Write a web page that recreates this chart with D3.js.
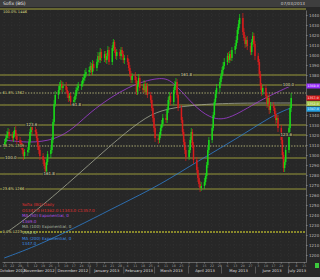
<!DOCTYPE html>
<html>
<head>
<meta charset="utf-8">
<script src="https://cdn.jsdelivr.net/npm/d3@7"></script>
<style>
  html, body { margin: 0; padding: 0; background: #272727; }
  svg { display: block; font-family: "DejaVu Sans", sans-serif; }
</style>
</head>
<body>
<div id="container"></div>
<script>
const title = "Sofix (BG)";
const stamp = "07/03/2013";
const firstDay = "2012-10-15", lastDay = "2013-07-03";

// daily candles, one row per week
const opens = [
  1310,1313,1317,1320,1323, 1319,1317,1321,1325,1319, 1315,1312,1309,1305,1299, 1303,1305,1313,1323,1329,
  1325,1323,1317,1309,1305, 1299,1295,1289,1283,1293, 1301,1305,1315,1333,1351, 1360,1365,1369,1371,1367,
  1369,1365,1361,1357,1359, 1353,1355,1359,1365,1367, 1369,1371,1375,1377,1381, 1383,1385,1389,1383,1391,
  1387,1393,1399,1395,1403, 1397,1401,1395,1399,1405, 1393,1407,1413,1405,1399, 1403,1399,1405,1401,1395,
  1397,1393,1387,1381,1375, 1379,1375,1363,1371,1377, 1367,1365,1371,1363,1369, 1360,1355,1347,1337,1327,
  1317,1315,1320,1327,1331, 1337,1335,1345,1355,1359, 1353,1365,1370,1373,1360, 1347,1335,1323,1313,1305,
  1298,1305,1315,1323,1310, 1295,1285,1277,1271,1267, 1269,1273,1279,1290,1305, 1315,1327,1340,1353,1361,
  1367,1373,1379,1385,1389, 1393,1399,1395,1401,1397, 1405,1409,1415,1425,1431, 1437,1423,1417,1411,1415,
  1409,1403,1413,1419,1411, 1399,1393,1381,1369,1363, 1367,1359,1351,1357,1345, 1349,1347,1341,1335,1337,
  1327,1315,1300,1287,1293, 1305,1327,1347
];
const highs = [
  1316,1320,1324,1327,1326, 1323,1324,1328,1329,1322, 1318,1315,1312,1308,1306, 1308,1316,1326,1333,1332,
  1329,1326,1320,1313,1308, 1302,1298,1292,1296,1304, 1308,1318,1336,1355,1364, 1369,1373,1375,1374,1373,
  1373,1368,1364,1362,1362, 1358,1362,1368,1371,1373, 1374,1378,1381,1385,1387, 1388,1393,1392,1395,1394,
  1396,1403,1402,1407,1406, 1404,1404,1402,1409,1408, 1410,1416,1415,1408,1406, 1406,1408,1408,1404,1400,
  1400,1396,1390,1384,1382, 1383,1378,1374,1381,1380, 1371,1375,1374,1372,1372, 1363,1359,1350,1340,1330,
  1320,1323,1330,1335,1341, 1341,1348,1358,1363,1362, 1368,1374,1377,1376,1363, 1350,1338,1326,1316,1308,
  1308,1318,1327,1326,1313, 1298,1288,1280,1274,1273, 1277,1282,1293,1308,1318, 1330,1343,1356,1365,1371,
  1377,1382,1388,1393,1397, 1402,1403,1404,1405,1408, 1412,1419,1428,1435,1441, 1442,1427,1420,1418,1419,
  1412,1416,1423,1422,1414, 1402,1396,1384,1372,1370, 1370,1362,1360,1361,1353, 1353,1350,1344,1340,1340,
  1330,1318,1303,1296,1308, 1330,1350,1362
];
const lows = [
  1306,1310,1314,1317,1316, 1314,1313,1318,1316,1311, 1309,1306,1301,1295,1296, 1299,1302,1310,1320,1321,
  1320,1314,1305,1301,1295, 1291,1286,1280,1280,1290, 1297,1302,1312,1330,1348, 1356,1362,1365,1363,1363,
  1362,1357,1353,1354,1350, 1349,1352,1356,1361,1364, 1365,1368,1372,1374,1378, 1379,1382,1380,1380,1384,
  1384,1390,1392,1392,1394, 1393,1392,1391,1396,1390, 1390,1404,1402,1396,1395, 1396,1395,1398,1392,1391,
  1390,1384,1378,1372,1372, 1372,1360,1360,1368,1364, 1362,1362,1360,1360,1357, 1352,1344,1333,1323,1313,
  1311,1312,1317,1324,1328, 1332,1332,1342,1351,1350, 1350,1362,1367,1357,1344, 1332,1320,1310,1301,1294,
  1295,1302,1312,1307,1291, 1282,1273,1268,1263,1264, 1266,1270,1276,1287,1302, 1312,1324,1337,1350,1357,
  1363,1370,1376,1381,1386, 1390,1392,1392,1394,1394, 1401,1406,1412,1421,1427, 1420,1414,1407,1408,1405,
  1400,1400,1410,1408,1395, 1390,1377,1365,1359,1360, 1356,1347,1348,1341,1342, 1344,1337,1331,1332,1323,
  1311,1296,1283,1283,1290, 1302,1323,1343
];
const closes = [
  1313,1317,1320,1323,1319, 1317,1321,1325,1319,1315, 1312,1309,1305,1299,1303, 1305,1313,1323,1329,1325,
  1323,1317,1309,1305,1299, 1295,1289,1283,1293,1301, 1305,1315,1333,1351,1360, 1365,1369,1371,1367,1369,
  1365,1361,1357,1359,1353, 1355,1359,1365,1367,1369, 1371,1375,1377,1381,1383, 1385,1389,1383,1391,1387,
  1393,1399,1395,1403,1397, 1401,1395,1399,1405,1393, 1407,1413,1405,1399,1403, 1399,1405,1401,1395,1397,
  1393,1387,1381,1375,1379, 1375,1363,1371,1377,1367, 1365,1371,1363,1369,1360, 1355,1347,1337,1327,1317,
  1315,1320,1327,1331,1337, 1335,1345,1355,1359,1353, 1365,1370,1373,1360,1347, 1335,1323,1313,1305,1298,
  1305,1315,1323,1310,1295, 1285,1277,1271,1267,1269, 1273,1279,1290,1305,1315, 1327,1340,1353,1361,1367,
  1373,1379,1385,1389,1393, 1399,1395,1401,1397,1405, 1409,1415,1425,1431,1437, 1423,1417,1411,1415,1409,
  1403,1413,1419,1411,1399, 1393,1381,1369,1363,1367, 1359,1351,1357,1345,1349, 1347,1341,1335,1337,1327,
  1315,1300,1287,1293,1305, 1327,1347,1357
];

// moving averages, read at a few points
const ma50Dates  = ["2012-10-15","2012-11-07","2012-11-30","2012-12-18","2013-01-03","2013-02-06","2013-03-06","2013-03-17","2013-04-05","2013-04-20","2013-05-06","2013-06-05","2013-07-03"];
const ma50Values = [1315,1312,1315,1327,1345,1370,1378,1375,1350,1337,1334,1355,1369];
const ma100Dates  = ["2012-10-15","2012-11-05","2012-12-11","2013-01-20","2013-02-17","2013-03-06","2013-04-03","2013-05-10","2013-07-03"];
const ma100Values = [1221,1237,1270,1310,1335,1345,1350,1352,1352];
const ma200Dates  = ["2012-10-15","2012-11-16","2012-12-29","2013-01-28","2013-03-06","2013-04-11","2013-05-13","2013-06-17","2013-07-03"];
const ma200Values = [1197,1210,1233,1250,1270,1295,1315,1340,1347];

// fibonacci retracement and extension levels
const fibPct   = ["100.0%", "61.8%", "38.2%", "23.6%", "0.0%"];
const fibPrice = [1446, 1362, 1309, 1266, 1223];
const extLabel = ["161.8", "100.0", "61.8", "123.6", "123.6", "100.0", "161.8"];
const extPrice = [1380, 1370, 1350, 1330, 1320, 1297, 1281];
const extAt    = ["2013-03-30","2013-07-01","2012-12-20","2012-11-09","2013-06-29","2012-10-21","2012-11-25"];

const priceTicks = [1200,1210,1220,1230,1240,1250,1260,1270,1280,1290,1300,1310,1320,1330,1340,1350,1360,1370,1380,1390,1400,1410,1420,1430,1440];
const monthLabels = ["October 2012","November 2012","December 2012","January 2013","February 2013","March 2013","April 2013","May 2013","June 2013","July 2013"];
const maNames = ["MA (50) Exponential, 0", "MA (100) Exponential, 0", "MA (200) Exponential, 0"];

const W = 320, H = 280;
const plot = {left: 2, right: 306, top: 10, bottom: 262};
const up = "#18d818", down = "#d81c1c";
const purple = "#a23ed6", sage = "#a4a894", blue = "#2f7fd0";

const parse = d3.timeParse("%Y-%m-%d");
const fmt = d3.format(".1f");

const days = d3.timeDay.range(parse(firstDay), d3.timeDay.offset(parse(lastDay), 1))
  .filter(d => d.getDay() !== 0 && d.getDay() !== 6);
const candles = days.map((d, i) => ({date: d3.timeHour.offset(d, 12), o: opens[i], h: highs[i], l: lows[i], c: closes[i]}));

const x = d3.scaleTime().domain([parse("2012-10-13"), parse("2013-07-17")]).range([plot.left, plot.right]);
const y = d3.scaleLinear().domain([1193, 1445]).range([plot.bottom, plot.top]);

const svg = d3.select("#container").append("svg").attr("width", W).attr("height", H);
svg.append("rect").attr("width", W).attr("height", H).attr("fill", "#272727");
svg.append("rect").attr("width", W).attr("height", 7).attr("fill", "#3e3e3e");
svg.append("rect").attr("y", 277).attr("width", W).attr("height", 3).attr("fill", "#d6d6d6");

svg.append("defs").append("clipPath").attr("id", "plotClip")
  .append("rect").attr("x", plot.left).attr("y", plot.top)
  .attr("width", plot.right - plot.left).attr("height", plot.bottom - plot.top);

svg.append("text").attr("x", 3).attr("y", 5.3).attr("fill", "#e6e6e6").attr("font-size", 4.5).text(title);
svg.append("text").attr("x", 305).attr("y", 5.3).attr("text-anchor", "end").attr("fill", "#cfcfcf").attr("font-size", 4.2).text(stamp);

// dotted grid
const grid = svg.append("g").attr("stroke", "#3b3b3b").attr("stroke-width", 0.5).attr("stroke-dasharray", "1,2");
grid.selectAll("line.h").data(priceTicks).join("line").attr("class", "h")
  .attr("x1", plot.left).attr("x2", plot.right).attr("y1", d => y(d)).attr("y2", d => y(d));
grid.selectAll("line.v").data(x.ticks(d3.timeMonday)).join("line").attr("class", "v")
  .attr("x1", d => x(d)).attr("x2", d => x(d)).attr("y1", plot.top).attr("y2", plot.bottom);

// extension lines
const ext = svg.append("g");
ext.selectAll("line").data(extPrice).join("line")
  .attr("x1", 0).attr("x2", plot.right).attr("y1", d => y(d)).attr("y2", d => y(d))
  .attr("stroke", "#a6a63c").attr("stroke-width", 0.9);

// retracement lines
const fibStyle = [["#b4b440", null, 0.9], ["#d2d28a", "1.4,1.4", 0.8], ["#d2d28a", "1.4,1.4", 0.8], ["#a6a63c", null, 0.9], ["#eaea30", "2,1", 1]];
const fib = svg.append("g");
fib.selectAll("line").data(fibPrice).join("line")
  .attr("x1", 0).attr("x2", plot.right).attr("y1", d => y(d)).attr("y2", d => y(d))
  .attr("stroke", (d, i) => fibStyle[i][0]).attr("stroke-dasharray", (d, i) => fibStyle[i][1])
  .attr("stroke-width", (d, i) => fibStyle[i][2]);

// moving averages
const maLine = d3.line().x(d => x(d[0])).y(d => y(d[1])).curve(d3.curveBasis);
const maG = svg.append("g").attr("clip-path", "url(#plotClip)").attr("fill", "none");
[[ma200Dates, ma200Values, blue], [ma100Dates, ma100Values, sage], [ma50Dates, ma50Values, purple]].forEach(([ds, vs, col]) => {
  maG.append("path").datum(ds.map((d, i) => [parse(d), vs[i]]))
    .attr("d", maLine).attr("stroke", col).attr("stroke-width", 0.8);
});

// candles
const cg = svg.append("g").attr("clip-path", "url(#plotClip)");
const bw = 1.5;
cg.selectAll("line.wick").data(candles).join("line").attr("class", "wick")
  .attr("x1", d => x(d.date)).attr("x2", d => x(d.date))
  .attr("y1", d => y(d.h)).attr("y2", d => y(d.l))
  .attr("stroke", d => d.c >= d.o ? up : down).attr("stroke-width", 0.7);
cg.selectAll("rect.body").data(candles).join("rect").attr("class", "body")
  .attr("x", d => x(d.date) - bw / 2).attr("width", bw)
  .attr("y", d => y(Math.max(d.o, d.c)))
  .attr("height", d => Math.max(0.6, Math.abs(y(d.o) - y(d.c))))
  .attr("fill", d => d.c >= d.o ? up : down);

// level labels
function tag(g, tx, ty, str, col, anchor, size) {
  const t = g.append("text").attr("x", tx).attr("y", ty + 1.3).attr("font-size", size)
    .attr("fill", col).attr("text-anchor", anchor).text(str);
  const b = t.node().getBBox();
  g.insert("rect", "text").attr("x", b.x - 0.4).attr("y", b.y + 0.3).attr("width", b.width + 0.8).attr("height", b.height - 0.6)
    .attr("fill", "#272727").attr("opacity", 0.85);
}
const tags = svg.append("g");
extPrice.forEach((p, i) => tag(tags, x(parse(extAt[i])), y(p), extLabel[i], "#dcdca6", "middle", 4));
fibPrice.forEach((p, i) => { if (i > 0) tag(tags, 2.5, y(p), fibPct[i] + " " + p, "#dede84", "start", 3.6); });
svg.append("text").attr("x", 3).attr("y", y(fibPrice[0]) + 4.3).attr("font-size", 3.6)
  .attr("fill", "#dede84").text(fibPct[0] + " " + fibPrice[0]);

// last-value markers on the price axis
const n = closes.length - 1;
const markers = [
  {v: ma50Values[ma50Values.length - 1], c: "#9b30ff"},
  {v: closes[n], c: "#d81c1c"},
  {v: ma100Values[ma100Values.length - 1], c: "#a8c84a"},
  {v: ma200Values[ma200Values.length - 1], c: "#28a4e4"}
].map(m => ({...m, py: y(m.v)})).sort((a, b) => a.py - b.py);
for (let i = 1; i < markers.length; i++) {
  if (markers[i].py < markers[i - 1].py + 5.6) markers[i].py = markers[i - 1].py + 5.6;
}

// right price axis (labels hidden where a marker sits)
const ya = svg.append("g").attr("transform", `translate(${plot.right},0)`)
  .call(d3.axisRight(y).tickValues(priceTicks).tickSize(1.5).tickSizeOuter(0).tickPadding(1.5).tickFormat(d3.format("d")));
ya.attr("font-size", 4).attr("font-family", "DejaVu Sans");
ya.select(".domain").attr("stroke", "#808080").attr("stroke-width", 0.7);
ya.selectAll(".tick line").attr("stroke", "#808080");
ya.selectAll(".tick text").attr("fill", "#bdbdbd")
  .style("display", d => markers.some(m => Math.abs(m.py - y(d)) < 5) ? "none" : null);

const mk = svg.append("g");
markers.forEach(m => {
  mk.append("rect").attr("x", plot.right + 0.5).attr("y", m.py - 2.5).attr("width", 13.5).attr("height", 5).attr("fill", m.c);
  mk.append("text").attr("x", plot.right + 1.5).attr("y", m.py + 1.2).attr("font-size", 3.2).attr("fill", "#f4f4f4").text(fmt(m.v));
});

// bottom time axis
const xa = svg.append("g").attr("transform", `translate(0,${plot.bottom})`)
  .call(d3.axisBottom(x).ticks(d3.timeMonday).tickSize(1.5).tickSizeOuter(0).tickPadding(0.8).tickFormat(d3.timeFormat("%-d")));
xa.attr("font-size", 3.2).attr("font-family", "DejaVu Sans");
xa.select(".domain").attr("stroke", "#808080").attr("stroke-width", 0.7);
xa.selectAll(".tick line").attr("stroke", "#808080");
xa.selectAll(".tick text").attr("fill", "#9c9c9c");

const months = d3.timeMonth.range(d3.timeMonth.floor(x.domain()[0]), x.domain()[1]);
const mg = svg.append("g");
months.forEach((m, i) => {
  const a = Math.max(plot.left, x(m)), b = Math.min(plot.right, x(d3.timeMonth.offset(m, 1)));
  mg.append("text").attr("x", (a + b) / 2).attr("y", 272).attr("text-anchor", "middle")
    .attr("font-size", 3.8).attr("fill", "#dcdcdc").text(monthLabels[i]);
  if (i > 0) mg.append("line").attr("x1", x(m)).attr("x2", x(m)).attr("y1", 266.5).attr("y2", 273.5)
    .attr("stroke", "#8a8a8a").attr("stroke-width", 0.5);
});
svg.append("rect").attr("x", 315).attr("y", 263).attr("width", 4).attr("height", 5).attr("fill", "#3cc83c");

// legend
const legendRows = [
  [title + " Daily", "#e03030"],
  [`O${fmt(opens[n])} H${fmt(highs[n])} L${fmt(lows[n])} C${fmt(closes[n])}`, "#e03030"],
  [maNames[0], "#b050e6"],
  [fmt(ma50Values[ma50Values.length - 1]), "#b050e6"],
  [maNames[1], "#a8b4a0"],
  [fmt(ma100Values[ma100Values.length - 1]), "#a2c894"],
  [maNames[2], "#3a8ee6"],
  [fmt(ma200Values[ma200Values.length - 1]), "#3a8ee6"]
];
svg.append("g").selectAll("text").data(legendRows).join("text")
  .attr("x", 22).attr("y", (d, i) => 206 + i * 5.6).attr("font-size", 4.1)
  .attr("fill", d => d[1]).text(d => d[0]);
</script>
</body>
</html>
